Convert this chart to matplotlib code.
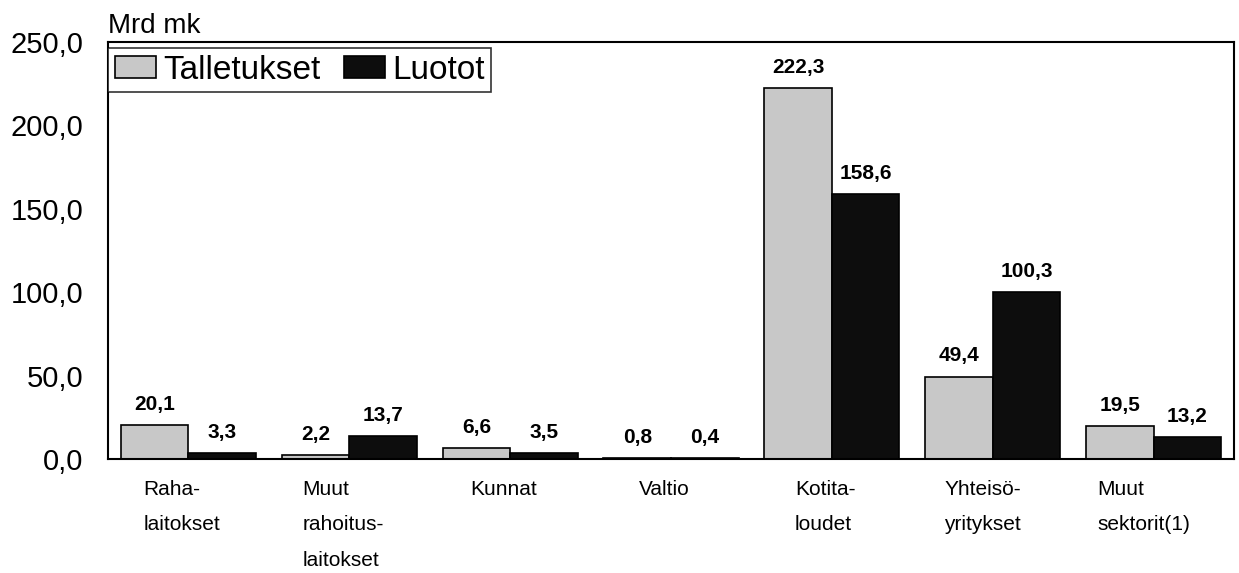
import matplotlib.pyplot as plt
import matplotlib.transforms as mtransforms
import numpy as np

plt.rcParams['font.family'] = ['Liberation Sans', 'DejaVu Sans']

sektorit = ['Raha-\nlaitokset', 'Muut\nrahoitus-\nlaitokset', 'Kunnat', 'Valtio',
            'Kotita-\nloudet', 'Yhteisö-\nyritykset', 'Muut\nsektorit(1)']
talletukset = [20.1, 2.2, 6.6, 0.8, 222.3, 49.4, 19.5]
luotot = [3.3, 13.7, 3.5, 0.4, 158.6, 100.3, 13.2]
yticks = [0, 50, 100, 150, 200, 250]

fig = plt.figure(figsize=(12.39, 5.73), dpi=100)
ax = fig.add_axes([0.0872, 0.199, 0.9088, 0.728])

x = np.arange(len(sektorit))
w = 0.42
b1 = ax.bar(x - w / 2, talletukset, w, color='#c8c8c8', edgecolor='black', linewidth=1.2, label='Talletukset')
b2 = ax.bar(x + w / 2, luotot, w, color='#0d0d0d', edgecolor='black', linewidth=1.2, label='Luotot')

def fmt(v):
    return ('%.1f' % v).replace('.', ',')

for bars, vals in ((b1, talletukset), (b2, luotot)):
    for r, v in zip(bars, vals):
        ax.annotate(fmt(v), (r.get_x() + r.get_width() / 2, v), xytext=(0, 8),
                    textcoords='offset points', ha='center', va='bottom',
                    fontsize=15, fontweight='bold')

ax.set_xlim(-0.5, len(sektorit) - 0.5)
ax.set_ylim(0, 250)
ax.set_yticks(yticks)
ax.set_yticklabels([fmt(v) for v in yticks], fontsize=21)
ax.tick_params(axis='y', length=0, pad=18)
ax.tick_params(axis='x', length=0, pad=15)
ax.set_xticks(x)
ax.set_xticklabels(sektorit, fontsize=15, ha='left', multialignment='left', linespacing=2.1)
# labels sit left of the group centre, as in the original
offs = [-0.28, -0.29, -0.25, -0.2, -0.23, -0.3, -0.35]
for lbl, o in zip(ax.get_xticklabels(), offs):
    lbl.set_transform(lbl.get_transform() + mtransforms.ScaledTranslation(o * 1.61, 0, fig.dpi_scale_trans))

for s in ax.spines.values():
    s.set_linewidth(1.5)

fig.text(0.087, 0.955, 'Mrd mk', fontsize=20, ha='left', va='center')

leg = ax.legend(loc='upper left', bbox_to_anchor=(0.0, 0.985), ncol=2, fontsize=24,
                frameon=True, fancybox=False, edgecolor='black', handlelength=1.25,
                handleheight=0.65, handletextpad=0.2, columnspacing=0.7,
                borderpad=0.2, borderaxespad=0.0)
leg.get_frame().set_linewidth(1.2)

fig.savefig('out.png', dpi=100)
